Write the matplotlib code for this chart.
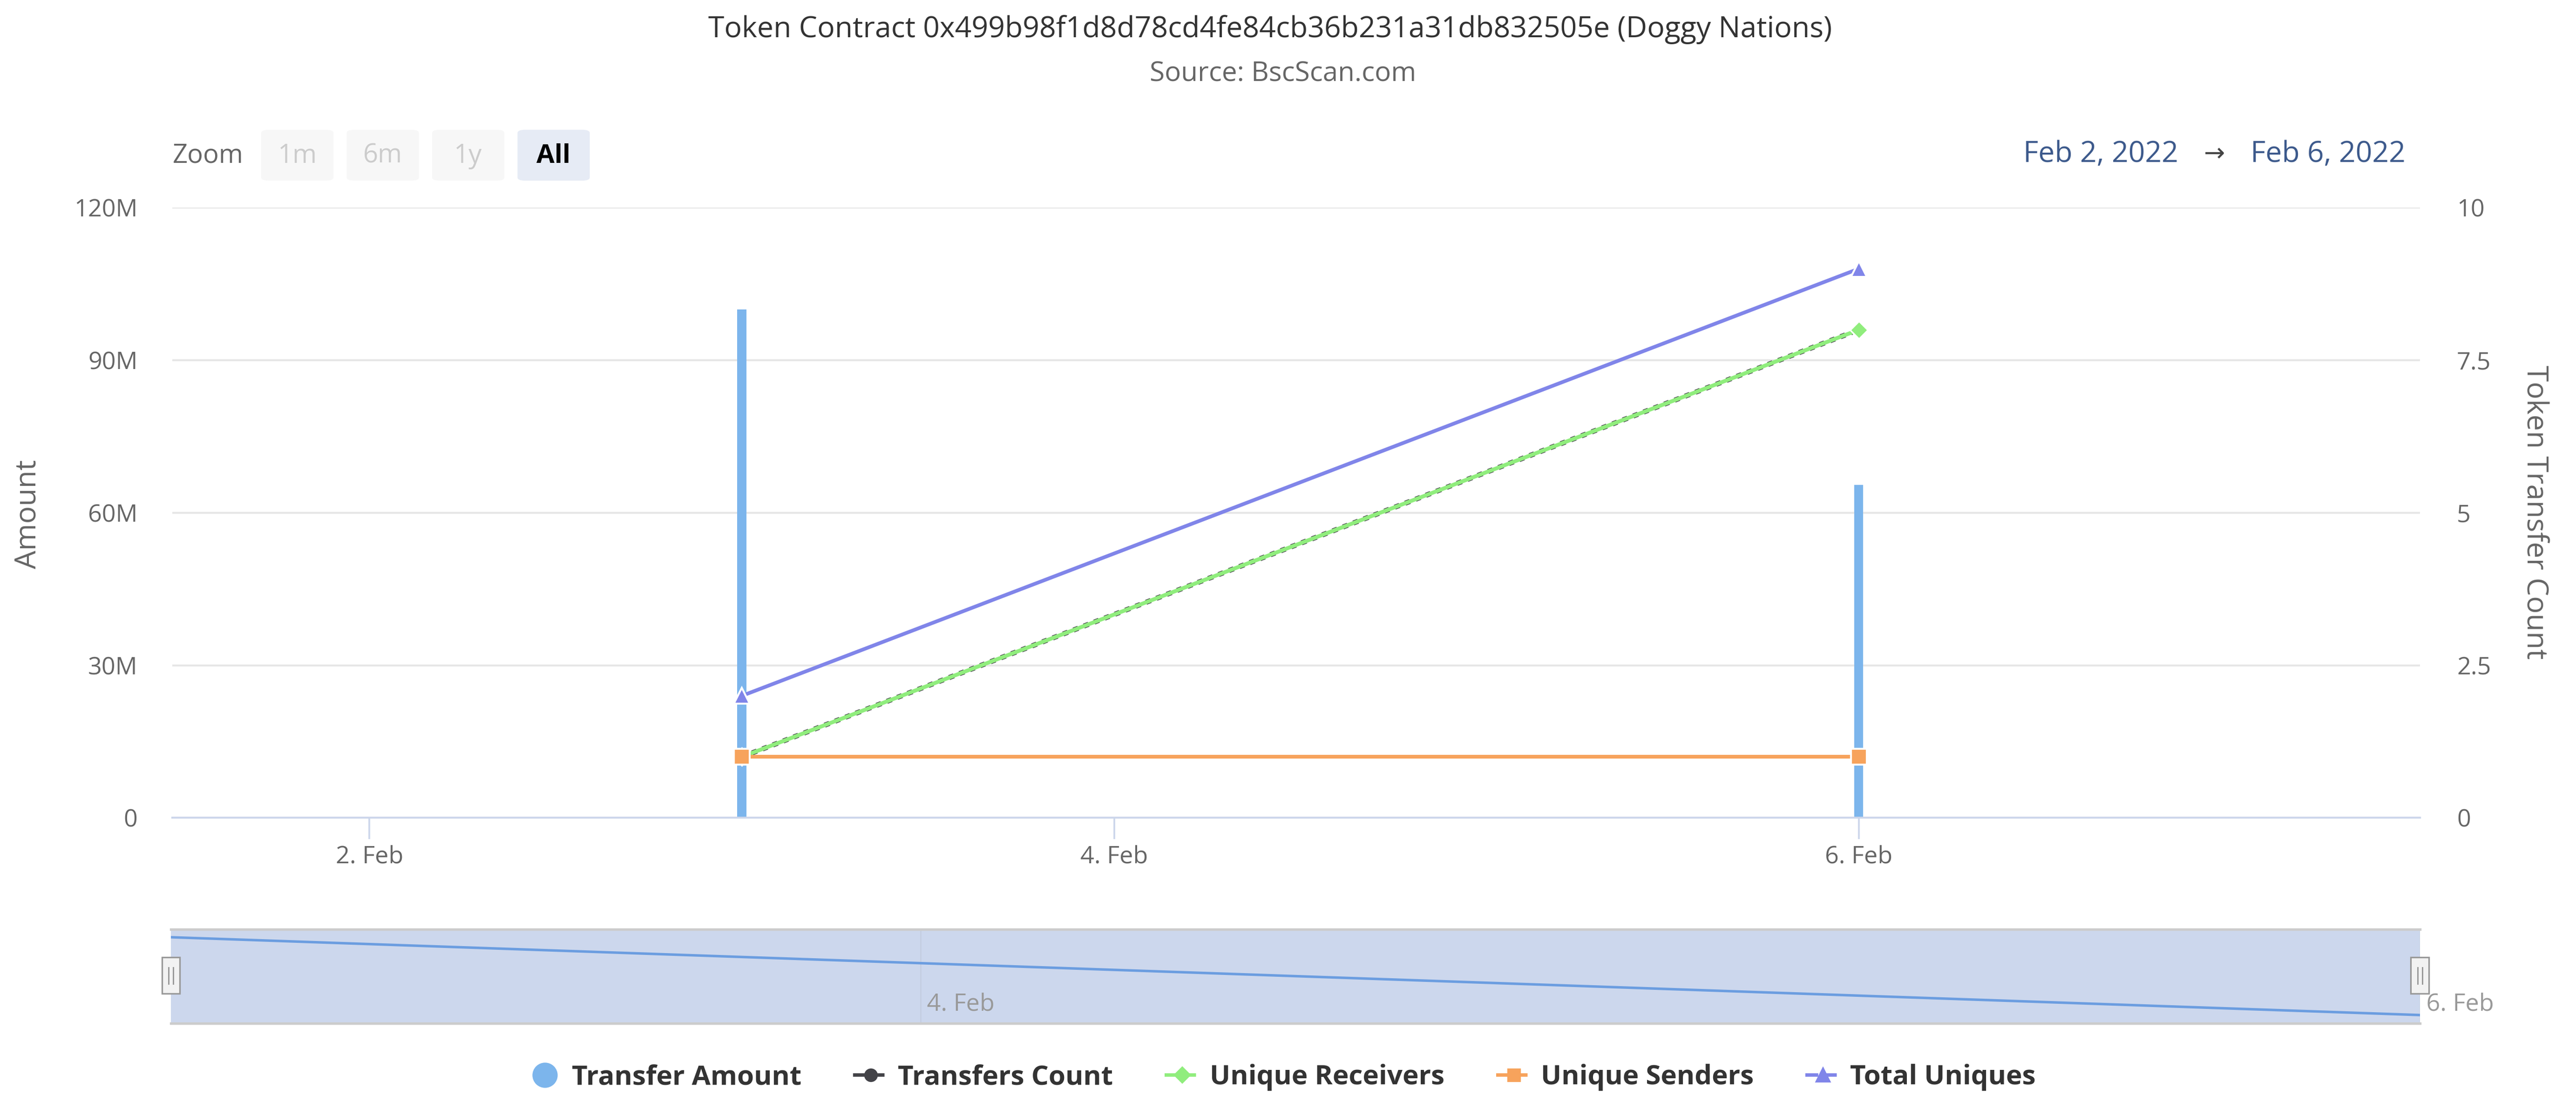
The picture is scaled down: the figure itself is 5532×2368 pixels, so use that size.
import numpy as np
import matplotlib.pyplot as plt
import matplotlib.dates as mdates
from matplotlib.lines import Line2D
from matplotlib.patches import FancyBboxPatch, Rectangle

plt.rcParams['font.family'] = ['Open Sans', 'DejaVu Sans']

# data
dates = np.array(['2022-02-03', '2022-02-06'], dtype='datetime64[D]')
transfer_amount = [100e6, 65.5e6]
transfers_count = [1, 8]
unique_receivers = [1, 8]
unique_senders = [1, 1]
total_uniques = [2, 9]

x_ticks = np.array(['2022-02-02', '2022-02-04', '2022-02-06'], dtype='datetime64[D]')
x_tick_labels = ['2. Feb', '4. Feb', '6. Feb']
nav_ticks = np.array(['2022-02-04', '2022-02-06'], dtype='datetime64[D]')
nav_tick_labels = ['4. Feb', '6. Feb']
amount_ticks = [0, 30e6, 60e6, 90e6, 120e6]
amount_labels = ['0', '30M', '60M', '90M', '120M']
count_ticks = [0, 2.5, 5, 7.5, 10]
count_labels = ['0', '2.5', '5', '7.5', '10']

title = 'Token Contract 0x499b98f1d8d78cd4fe84cb36b231a31db832505e (Doggy Nations)'
subtitle = 'Source: BscScan.com'
range_from = 'Feb 2, 2022'
range_to = 'Feb 6, 2022'

# colours (highcharts defaults)
c_amount = '#7cb5ec'
c_count = '#434348'
c_recv = '#90ed7d'
c_send = '#f7a35c'
c_total = '#8085e9'

W, H = 1568, 671  # layout reference grid


def fx(x):
    return x / W


def fy(y):
    return 1 - y / H


fig = plt.figure(figsize=(5532 / 300, 2368 / 300), dpi=300)

xd = mdates.date2num(dates)
x0 = mdates.date2num(np.datetime64('2022-02-02')) - 0.529
x1 = mdates.date2num(np.datetime64('2022-02-06')) + 1.507

# main chart
ax = fig.add_axes([fx(105), fy(498), fx(1473) - fx(105), fy(126.5) - fy(498)])
ax.bar(xd, transfer_amount, width=0.024, color=c_amount, zorder=2)
ax.set_xlim(x0, x1)
ax.set_ylim(0, 120e6)
ax.set_yticks(amount_ticks)
ax.set_yticklabels(amount_labels)
ax.set_xticks(mdates.date2num(x_ticks))
ax.set_xticklabels(x_tick_labels)
ax.yaxis.grid(True, color='#e6e6e6', lw=1.0, zorder=0)
ax.set_axisbelow(True)
for s in ['top', 'left', 'right']:
    ax.spines[s].set_visible(False)
ax.spines['bottom'].set_color('#ccd6eb')
ax.spines['bottom'].set_linewidth(1.0)
ax.tick_params(axis='y', length=0, pad=18, labelsize=12.5, labelcolor='#666666')
ax.tick_params(axis='x', length=11, width=0.9, color='#ccd6eb', pad=3,
               labelsize=12.5, labelcolor='#666666')

ax2 = ax.twinx()
ax2.set_ylim(0, 10)
ax2.set_xlim(x0, x1)
ax2.set_yticks(count_ticks)
ax2.set_yticklabels(count_labels)
for s in ax2.spines.values():
    s.set_visible(False)
ax2.tick_params(axis='y', length=0, pad=19, labelsize=12.5, labelcolor='#666666')

ax2.plot(xd, transfers_count, color=c_count, lw=2.6, ls=(0, (1, 1.2)),
         marker='o', ms=7, mec='white', mew=0.8, zorder=3)
ax2.plot(xd, unique_receivers, color=c_recv, lw=2.0,
         marker='D', ms=6.5, mec='white', mew=0.8, zorder=4)
ax2.plot(xd, unique_senders, color=c_send, lw=1.9,
         marker='s', ms=8, mec='white', mew=1.0, zorder=5)
ax2.plot(xd, total_uniques, color=c_total, lw=1.9,
         marker='^', ms=8, mec='white', mew=1.0, zorder=6)

fig.text(fx(17), fy(313), 'Amount', rotation=90, ha='center', va='center',
         fontsize=15, color='#666666')
fig.text(fx(1543), fy(312), 'Token Transfer Count', rotation=270, ha='center',
         va='center', fontsize=15, color='#666666')

# titles
fig.text(fx(773), fy(18), title, ha='center', va='center', fontsize=15, color='#333333')
fig.text(fx(781), fy(45), subtitle, ha='center', va='center', fontsize=14, color='#666666')

# range selector
fig.text(fx(105), fy(95), 'Zoom', ha='left', va='center', fontsize=13.5, color='#666666')
buttons = [('1m', 159, 203), ('6m', 211, 255), ('1y', 263, 307), ('All', 315, 359)]
for lab, bx0, bx1 in buttons:
    active = lab == 'All'
    fig.patches.append(FancyBboxPatch(
        (fx(bx0), fy(110)), fx(bx1) - fx(bx0), fy(79) - fy(110),
        boxstyle='round,pad=0,rounding_size=0.003', transform=fig.transFigure,
        facecolor='#e6ebf5' if active else '#f7f7f7', edgecolor='none'))
    fig.text(fx((bx0 + bx1) / 2), fy(95), lab, ha='center', va='center', fontsize=13.5,
             color='#000000' if active else '#cccccc',
             fontweight='bold' if active else 'normal')
fig.text(fx(1326), fy(94), range_from, ha='right', va='center', fontsize=15,
         color='#3d5a8c')
fig.text(fx(1348), fy(94), '\u2192', ha='center', va='center', fontsize=13,
         color='#444444')
fig.text(fx(1370), fy(94), range_to, ha='left', va='center', fontsize=15,
         color='#3d5a8c')

# navigator
nav = fig.add_axes([fx(104), fy(623), fx(1473) - fx(104), fy(566) - fy(623)])
nav.set_facecolor('#ccd7ed')
nav.plot(xd, transfer_amount, color='#6b9de0', lw=1.3)
nav.set_xlim(xd[0], xd[-1])
nav.set_ylim(61.9e6, 103.4e6)
nav.set_yticks([])
nav.set_xticks(mdates.date2num(nav_ticks))
nav.set_xticklabels([])
nav.xaxis.grid(True, color='#c4cde0', lw=0.6)
nav.tick_params(axis='x', length=0)
for s in nav.spines.values():
    s.set_visible(False)
for s in ['top', 'bottom']:
    nav.spines[s].set_visible(True)
    nav.spines[s].set_color('#cccccc')
    nav.spines[s].set_linewidth(1.3)
for t, lab in zip(mdates.date2num(nav_ticks), nav_tick_labels):
    nav.text(t, 0.2, ' ' + lab, transform=nav.get_xaxis_transform(), ha='left',
             va='center', fontsize=12.5, color='#999999', clip_on=False)
for hx in [104, 1473]:
    fig.patches.append(Rectangle((fx(hx - 5.5), fy(605)), fx(11), fy(583) - fy(605),
                                 transform=fig.transFigure, facecolor='#f2f2f2',
                                 edgecolor='#999999', lw=0.8, zorder=5))
    for dx in [-1.5, 1.5]:
        fig.lines.append(Line2D([fx(hx + dx), fx(hx + dx)], [fy(599), fy(589)],
                                transform=fig.transFigure, color='#999999', lw=0.7,
                                zorder=6))

# legend
handles = [
    Line2D([], [], ls='none', marker='o', ms=12, color=c_amount),
    Line2D([], [], ls='--', lw=1.8, marker='o', ms=6, color=c_count),
    Line2D([], [], ls='--', lw=1.8, marker='D', ms=5.5, color=c_recv),
    Line2D([], [], ls='--', lw=1.8, marker='s', ms=6, color=c_send),
    Line2D([], [], ls='--', lw=1.8, marker='^', ms=6.5, color=c_total),
]
labels = ['Transfer Amount', 'Transfers Count', 'Unique Receivers', 'Unique Senders',
          'Total Uniques']
leg = fig.legend(handles, labels, loc='center', bbox_to_anchor=(fx(780), fy(656)),
                 ncol=5, frameon=False, handlelength=1.3, handletextpad=0.35,
                 columnspacing=1.9, prop={'size': 14, 'weight': 'bold'})
for t in leg.get_texts():
    t.set_color('#333333')

fig.savefig('out.png', dpi=300, facecolor='white')
